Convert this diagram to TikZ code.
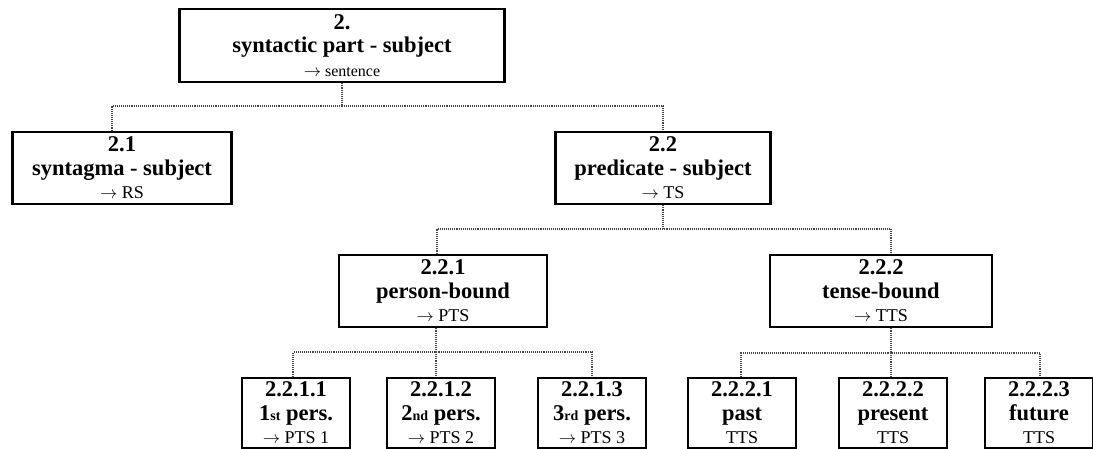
\documentclass[tikz,border=0pt]{standalone}
\usepackage{fontspec}
\setmainfont{Liberation Serif}
\usetikzlibrary{positioning}

\newcommand{\hd}[1]{\textbf{#1}}
\newcommand{\tg}[1]{{\fontsize{18}{18}\selectfont $\rightarrow$ #1}}
\newcommand{\ord}[1]{{\fontsize{14}{14}\selectfont #1}}

\tikzset{
  tbox/.style={draw, line width=2.6pt, inner sep=0pt, align=center, minimum height=72pt,
    font=\fontsize{22.5}{23.5}\selectfont},
  leaf/.style={tbox, minimum width=108pt, minimum height=70pt},
  link/.style={draw=gray!55!black, line width=1.1pt, densely dotted},
}

\begin{document}
\begin{tikzpicture}[x=1pt, y=-1pt]
  \useasboundingbox (0,0) rectangle (1093,449);

  % Top level
  \node[tbox, minimum width=325pt, minimum height=73pt] (top) at (342,45.5) {\hd{2.}\\ \hd{syntactic part - subject}\\ {\fontsize{16}{16}\selectfont $\rightarrow$ sentence}};

  % Second level
  \node[tbox, minimum width=219pt] (n21) at (122,168) {\hd{2.1}\\ \hd{syntagma - subject}\\ \tg{RS}};
  \node[tbox, minimum width=215pt] (n22) at (663,168) {\hd{2.2}\\ \hd{predicate - subject}\\ \tg{TS}};

  \coordinate (s21) at (112,106);
  \draw[link] (top.south) -- (top.south |- s21);
  \draw[link] (s21 |- n21.north) -- (s21) -| (n22.north);

  % Third level
  \node[tbox, minimum width=208pt] (n221) at (443,291) {\hd{2.2.1}\\ \hd{person-bound}\\ \tg{PTS}};
  \node[tbox, minimum width=222pt] (n222) at (881,291) {\hd{2.2.2}\\ \hd{tense-bound}\\ \tg{TTS}};

  \coordinate (s221) at (437,229);
  \coordinate (s222) at (891,229);
  \draw[link] (n22.south) -- (n22.south |- s221);
  \draw[link] (s221 |- n221.north) -- (s221) -- (s222) -- (s222 |- n222.north);

  % Leaves, person-bound
  \node[leaf] (p1) at (296,413) {\hd{2.2.1.1}\\ \hd{1\ord{st} pers.}\\ \tg{PTS 1}};
  \node[leaf] (p2) at (441,413) {\hd{2.2.1.2}\\ \hd{2\ord{nd} pers.}\\ \tg{PTS 2}};
  \node[leaf] (p3) at (592,413) {\hd{2.2.1.3}\\ \hd{3\ord{rd} pers.}\\ \tg{PTS 3}};

  \coordinate (k1) at (293,352);
  \coordinate (k2) at (436,352);
  \coordinate (k3) at (592,352);
  \draw[link] (k2 |- n221.south) -- (k2);
  \draw[link] (k1 |- p1.north) -- (k1) -- (k3) -- (k3 |- p3.north);
  \draw[link] (k2) -- (k2 |- p2.north);

  % Leaves, tense-bound
  \node[leaf] (t1) at (742,413) {\hd{2.2.2.1}\\ \hd{past}\\ {\fontsize{18}{18}\selectfont TTS}};
  \node[leaf] (t2) at (893,413) {\hd{2.2.2.2}\\ \hd{present}\\ {\fontsize{18}{18}\selectfont TTS}};
  \node[leaf] (t3) at (1039,413) {\hd{2.2.2.3}\\ \hd{future}\\ {\fontsize{18}{18}\selectfont TTS}};

  \coordinate (m1) at (741,353);
  \coordinate (m2) at (891,353);
  \coordinate (m3) at (1040,353);
  \draw[link] (m2 |- n222.south) -- (m2);
  \draw[link] (m1 |- t1.north) -- (m1) -- (m3) -- (m3 |- t3.north);
  \draw[link] (m2) -- (m2 |- t2.north);
\end{tikzpicture}
\end{document}
